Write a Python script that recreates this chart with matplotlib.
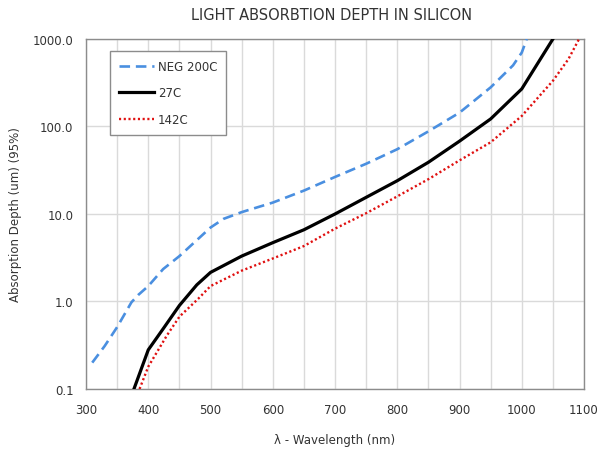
import matplotlib
matplotlib.use("Agg")
import matplotlib.pyplot as plt
from matplotlib.ticker import FixedLocator, FuncFormatter, NullLocator

# ---- data ----
neg200_wl = [310, 330, 350, 373, 384, 400, 424, 450, 500, 521, 550, 600, 650,
             700, 750, 800, 850, 900, 950, 986, 1000, 1008]
neg200_depth = [0.2, 0.31, 0.51, 0.98, 1.19, 1.5, 2.35, 3.3, 7.0, 8.8, 10.5,
                13.5, 18.5, 26.5, 37.5, 55, 88, 144, 280, 500, 700, 1000]

c27_wl = [377, 400, 425, 450, 478, 500, 550, 600, 650, 700, 750, 800, 850,
          900, 950, 1000, 1050]
c27_depth = [0.1, 0.28, 0.5, 0.9, 1.55, 2.15, 3.3, 4.7, 6.6, 10.0, 15.5, 24,
             39, 68, 122, 269, 1000]

c142_wl = [386, 400, 430, 450, 480, 500, 550, 600, 650, 700, 750, 800, 850,
           900, 950, 1000, 1050, 1075, 1092]
c142_depth = [0.1, 0.18, 0.41, 0.67, 1.07, 1.5, 2.25, 3.1, 4.3, 6.8, 10.2,
              15.9, 25, 41, 66, 132, 333, 590, 1000]

x_ticks = [300, 400, 500, 600, 700, 800, 900, 1000, 1100]
y_ticks = [0.1, 1.0, 10.0, 100.0, 1000.0]

title = "LIGHT ABSORBTION DEPTH IN SILICON"
xlabel = "λ - Wavelength (nm)"
ylabel = "Absorption Depth (um) (95%)"

# ---- figure ----
plt.rcParams['font.family'] = ['DejaVu Sans']
fig = plt.figure(figsize=(5.99, 4.52), dpi=100)
ax = fig.add_axes([0.1436, 0.1372, 0.8314, 0.7743])

ax.plot(neg200_wl, neg200_depth, color='#4a8fe0', lw=1.9,
        dashes=(4, 2.2), label='NEG 200C', zorder=3)
ax.plot(c27_wl, c27_depth, color='black', lw=2.3, label='27C', zorder=4)
ax.plot(c142_wl, c142_depth, color='#e01010', lw=1.7,
        dashes=(0.9, 1.1), label='142C', zorder=3)

ax.set_yscale('log')
ax.set_xlim(300, 1100)
ax.set_ylim(0.1, 1000)

ax.xaxis.set_major_locator(FixedLocator(x_ticks))
ax.xaxis.set_minor_locator(FixedLocator(list(range(350, 1100, 100))))
ax.yaxis.set_major_locator(FixedLocator(y_ticks))
ax.yaxis.set_minor_locator(NullLocator())
ax.yaxis.set_major_formatter(FuncFormatter(lambda v, p: f"{v:.1f}"))

ax.grid(True, which='major', axis='both', color='#dadada', lw=1.0)
ax.grid(True, which='minor', axis='x', color='#dadada', lw=1.0)
ax.set_axisbelow(True)

ax.tick_params(which='both', length=0, labelsize=8.5, colors='#333333')
ax.tick_params(axis='y', pad=9)
ax.tick_params(axis='x', pad=10)

for s in ax.spines.values():
    s.set_color('#8c8c8c')
    s.set_linewidth(1.0)

fig.text(0.553, 0.966, title, ha='center', va='center', fontsize=10.5,
         color='#333333')
ax.set_xlabel(xlabel, fontsize=8.5, color='#333333', labelpad=12)
ax.set_ylabel(ylabel, fontsize=8.5, color='#333333', labelpad=8)

leg = ax.legend(loc='upper left', bbox_to_anchor=(0.048, 0.966),
                borderaxespad=0, fontsize=8.5, frameon=True, fancybox=False,
                edgecolor='#8c8c8c', framealpha=1, labelspacing=1.15,
                handlelength=3.0, handletextpad=0.3, borderpad=0.75)
leg.get_frame().set_linewidth(1.0)
for t in leg.get_texts():
    t.set_color('#333333')

fig.savefig('out.png', dpi=100)
